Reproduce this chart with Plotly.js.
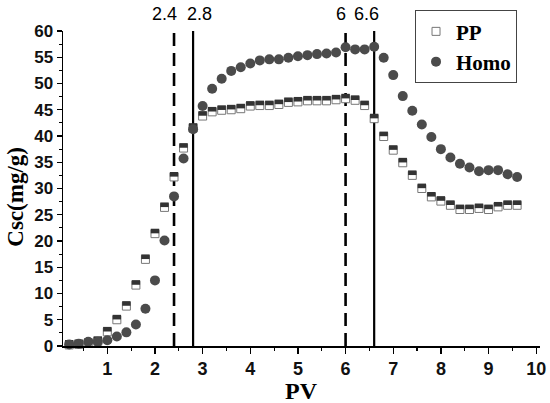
<!DOCTYPE html>
<html>
<head>
<meta charset="utf-8">
<script src="https://cdn.plot.ly/plotly-3.0.1.min.js"></script>
<style>html,body{margin:0;padding:0;background:#fff;}#chart{width:550px;height:403px;}</style>
</head>
<body>
<div id="chart"></div>
<script>
// PV values (x)
var pv = [0.2,0.4,0.6,0.8,1.0,1.2,1.4,1.6,1.8,2.0,2.2,2.4,2.6,2.8,3.0,
          3.2,3.4,3.6,3.8,4.0,4.2,4.4,4.6,4.8,5.0,5.2,5.4,5.6,5.8,6.0,6.2,6.4,
          6.6,6.8,7.0,7.2,7.4,7.6,7.8,8.0,8.2,8.4,8.6,8.8,9.0,9.2,9.4,9.6];
// Csc (mg/g) for PP
var ppValues = [0.2,0.3,0.5,0.9,2.7,5.0,7.6,11.6,16.5,21.4,26.4,32.2,37.7,41.5,43.8,
                44.6,44.9,45.0,45.2,45.7,45.8,45.8,46.0,46.4,46.5,46.7,46.7,46.7,46.9,47.1,46.8,45.8,
                43.3,39.9,37.3,34.9,32.5,30.0,28.4,27.6,26.8,26.0,26.0,26.2,26.0,26.5,26.8,26.8];
// Csc (mg/g) for Homo
var homoValues = [0.3,0.45,0.8,0.8,1.1,1.8,2.6,4.1,7.1,12.5,20.1,28.5,35.7,41.3,45.7,
                  49.0,50.9,52.4,53.1,53.8,54.4,54.6,54.6,54.9,55.2,55.4,55.6,55.7,55.9,56.9,56.5,56.5,
                  57.0,54.9,51.6,47.6,44.8,42.2,39.8,37.5,35.9,34.7,34.0,33.3,33.5,33.5,32.7,32.2];
// reference lines
var dashedLines = [2.4, 6];
var solidLines = [2.8, 6.6];
var lineLabels = ["2.4", "2.8", "6", "6.6"];
var lineLabelX = [2.4, 2.8, 6, 6.6];
var labelShift = [-10, 6, -5, -8];
var yTickVals = [0,5,10,15,20,25,30,35,40,45,50,55,60];
var xTickVals = [1,2,3,4,5,6,7,8,9,10];
var xTitle = "PV";
var yTitle = "Csc(mg/g)";

var serifBold = {family: "Liberation Serif, 'Times New Roman', serif", weight: "bold", color: "#000"};
var sansBold = {family: "Liberation Sans, Arial, sans-serif", weight: "bold", color: "#111"};

var traces = [
  {x: pv, y: ppValues, name: "PP", type: "scatter", mode: "markers", cliponaxis: false,
   marker: {symbol: "square", size: 8, color: "#ffffff", line: {color: "#777777", width: 1}}},
  {x: pv, y: ppValues, name: "PP", type: "scatter", mode: "markers", cliponaxis: false,
   yaxis: "y2", showlegend: false, hoverinfo: "skip",
   marker: {symbol: "line-ew", size: 6, color: "#333333", line: {color: "#333333", width: 4.6}}},
  {x: pv, y: homoValues, name: "Homo", type: "scatter", mode: "markers", cliponaxis: false,
   yaxis: "y3",
   marker: {symbol: "circle", size: 10, color: "#4b4b4b", line: {width: 0}}}
];

var shapes = [];
dashedLines.forEach(function(v){
  shapes.push({type: "line", xref: "x", yref: "y", x0: v, x1: v, y0: 0, y1: 60, layer: "below",
               line: {color: "#000", width: 2.6, dash: "13px,7px"}});
});
solidLines.forEach(function(v){
  shapes.push({type: "line", xref: "x", yref: "y", x0: v, x1: v, y0: 0, y1: 60, layer: "below",
               line: {color: "#000", width: 2.2}});
});

var annotations = lineLabels.map(function(t, i){
  return {text: t, x: lineLabelX[i], xref: "x", y: 1.054, yref: "paper", xanchor: "center",
          yanchor: "middle", showarrow: false, xshift: labelShift[i],
          font: {family: "Liberation Sans, Arial, sans-serif", size: 18, color: "#000"}};
});
annotations.push({text: xTitle, x: 0.5, xref: "paper", y: -0.142, yref: "paper",
                  xanchor: "center", yanchor: "middle", showarrow: false,
                  font: Object.assign({size: 24}, serifBold)});
annotations.push({text: yTitle, x: -0.0985, xref: "paper", y: 0.474, yref: "paper",
                  xanchor: "center", yanchor: "middle", showarrow: false, textangle: -90,
                  font: Object.assign({size: 23}, serifBold)});

var yRange = [0, 60];
var layout = {
  width: 550, height: 403,
  margin: {l: 63, r: 10, t: 31, b: 57},
  paper_bgcolor: "#fff", plot_bgcolor: "#fff",
  showlegend: true,
  legend: {x: 0.738, y: 1.066, xanchor: "left", yanchor: "top", bgcolor: "#fff",
           bordercolor: "#444", borderwidth: 1, tracegroupgap: 0,
           font: {family: "Liberation Serif, 'Times New Roman', serif", weight: "bold", size: 21, color: "#000"}},
  xaxis: {range: [0.07, 10.08], tickvals: xTickVals, ticks: "outside", ticklen: 6, tickwidth: 1.3,
          tickcolor: "#000", showline: true, linecolor: "#000", linewidth: 1.5,
          showgrid: false, zeroline: false,
          minor: {dtick: 0.5, tick0: 0, ticks: "outside", ticklen: 3.5, tickwidth: 1.2, tickcolor: "#000", showgrid: false},
          tickfont: Object.assign({size: 18}, sansBold)},
  yaxis: {range: yRange, tickvals: yTickVals, ticks: "outside", ticklen: 5, tickwidth: 1.3,
          tickcolor: "#000", showline: true, linecolor: "#000", linewidth: 1.5,
          showgrid: false, zeroline: false,
          minor: {dtick: 2.5, tick0: 0, ticks: "outside", ticklen: 3, tickwidth: 1.2, tickcolor: "#000", showgrid: false},
          tickfont: Object.assign({size: 17}, sansBold)},
  yaxis2: {overlaying: "y", range: [-0.5, 59.5], visible: false, fixedrange: true},
  yaxis3: {overlaying: "y", range: yRange, visible: false, fixedrange: true},
  shapes: shapes,
  annotations: annotations
};

Plotly.newPlot("chart", traces, layout, {displayModeBar: false, staticPlot: true});
</script>
</body>
</html>
